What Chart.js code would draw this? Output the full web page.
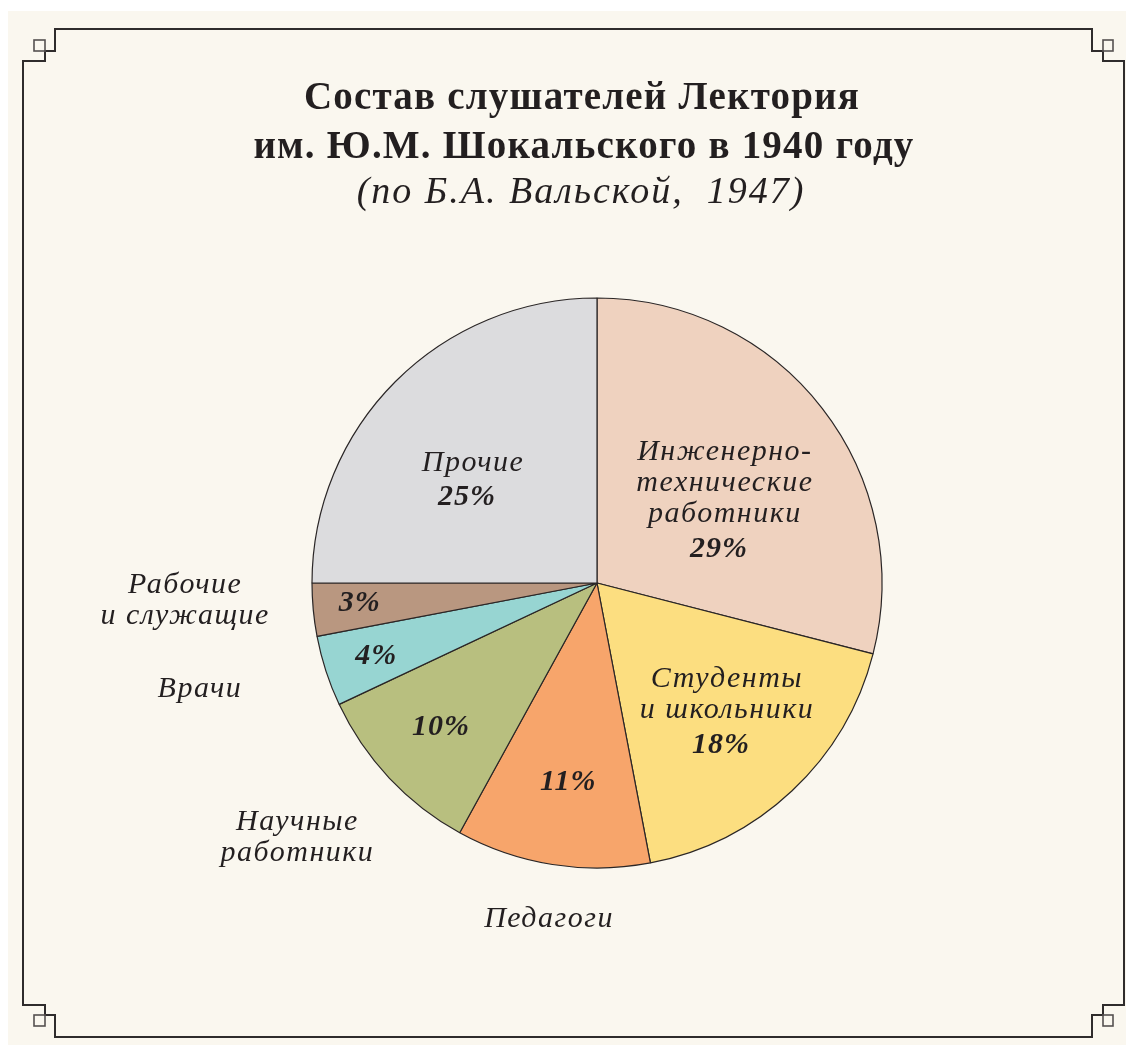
<!DOCTYPE html>
<html lang="ru">
<head>
<meta charset="utf-8">
<title>Состав слушателей Лектория</title>
<script src="https://cdn.jsdelivr.net/npm/chart.js@4.4.1/dist/chart.umd.min.js"></script>
<style>
    html, body { margin: 0; padding: 0; background: #ffffff; }
    #wrap { width: 1126px; height: 1045px; position: relative; }
</style>
</head>
<body>
<div id="wrap"><canvas id="lectureChart"></canvas></div>
<script>
// данные
const categories = [
    ['Инженерно-', 'технические', 'работники'],
    ['Студенты', 'и школьники'],
    ['Педагоги'],
    ['Научные', 'работники'],
    ['Врачи'],
    ['Рабочие', 'и служащие'],
    ['Прочие']
];
const shares = [29, 18, 11, 10, 4, 3, 25];
const sliceColors = ['#efd2bf', '#fcde80', '#f7a56b', '#b8bf7f', '#97d5d2', '#b99780', '#dcdcde'];

const titleLines = ['Состав слушателей Лектория', 'им. Ю.М. Шокальского в 1940 году'];
const subtitleLine = '(по Б.А. Вальской,  1947)';

// где ставить подписи: [доля радиуса, сдвиг угла в градусах], outside = имя снаружи
const labelPlace = [
    { r: 0.54, shift: 4, outside: null },
    { r: 0.635, shift: -2.7, outside: null },
    { r: 0.70, shift: -0.7, outside: { r: 1.18, shift: -0.8 } },
    { r: 0.74, shift: 0.9, outside: { r: 1.372, shift: 3.2 } },
    { r: 0.814, shift: 0, outside: { r: 1.439, shift: 3.5 } },
    { r: 0.835, shift: 1.1, outside: { r: 1.446, shift: 3.3 } },
    { r: 0.572, shift: -4.5, outside: null }
];

const ink = '#231f20';
const nameFont = 'italic 30px "Liberation Serif", serif';
const pctFont = 'italic bold 30px "Liberation Serif", serif';

const framePlugin = {
    id: 'frame',
    beforeDraw(chart) {
        const ctx = chart.ctx;
        ctx.save();
        ctx.fillStyle = '#ffffff';
        ctx.fillRect(0, 0, chart.width, chart.height);
        ctx.fillStyle = '#faf7ef';
        ctx.fillRect(8, 11, chart.width - 8, chart.height - 11);

        ctx.strokeStyle = '#2f2c2c';
        ctx.lineWidth = 2;
        const pts = [[55, 29], [1092, 29], [1092, 51], [1103, 51], [1103, 61], [1124, 61],
            [1124, 1005], [1103, 1005], [1103, 1015], [1092, 1015], [1092, 1037], [55, 1037],
            [55, 1015], [45, 1015], [45, 1005], [23, 1005], [23, 61], [45, 61], [45, 51], [55, 51]];
        ctx.beginPath();
        pts.forEach((p, i) => i ? ctx.lineTo(p[0], p[1]) : ctx.moveTo(p[0], p[1]));
        ctx.closePath();
        ctx.stroke();
        ctx.lineWidth = 1.6;
        ctx.strokeStyle = '#555050';
        ctx.strokeRect(34, 40, 11, 11);
        ctx.strokeRect(1103, 40, 10, 11);
        ctx.strokeRect(34, 1015, 11, 11);
        ctx.strokeRect(1103, 1015, 10, 11);

        // заголовок
        ctx.fillStyle = ink;
        ctx.textAlign = 'center';
        ctx.textBaseline = 'alphabetic';
        ctx.font = 'bold 39px "Liberation Serif", serif';
        ctx.letterSpacing = '1.2px';
        ctx.fillText(titleLines[0], 582, 109);
        ctx.fillText(titleLines[1], 584, 158);
        ctx.font = 'italic 38px "Liberation Serif", serif';
        ctx.letterSpacing = '2px';
        ctx.fillText(subtitleLine, 581, 203);
        ctx.restore();
    }
};

const labelPlugin = {
    id: 'sliceLabels',
    afterDatasetsDraw(chart) {
        const ctx = chart.ctx;
        const meta = chart.getDatasetMeta(0);
        ctx.save();
        ctx.fillStyle = ink;
        ctx.textAlign = 'center';
        ctx.textBaseline = 'middle';
        meta.data.forEach((arc, i) => {
            const p = arc.getProps(['x', 'y', 'startAngle', 'endAngle', 'outerRadius'], true);
            const place = labelPlace[i];
            const mid = (p.startAngle + p.endAngle) / 2;
            const at = (r, shift) => {
                const a = mid + shift * Math.PI / 180;
                return [p.x + Math.cos(a) * r * p.outerRadius, p.y + Math.sin(a) * r * p.outerRadius];
            };
            const pct = shares[i] + '%';
            const lineH = 31;
            if (place.outside) {
                const [ix, iy] = at(place.r, place.shift);
                ctx.font = pctFont;
                ctx.letterSpacing = '1px';
                ctx.fillText(pct, ix, iy + 2);
                const [ox, oy] = at(place.outside.r, place.outside.shift);
                ctx.font = nameFont;
                ctx.letterSpacing = '1.5px';
                const lines = categories[i];
                lines.forEach((t, k) => {
                    ctx.fillText(t, ox, oy + 3 + (k - (lines.length - 1) / 2) * lineH);
                });
            } else {
                const [cx, cy] = at(place.r, place.shift);
                const lines = categories[i];
                const total = (lines.length + 1) * lineH + 4;
                let y = cy - total / 2 + lineH / 2 + 3;
                ctx.font = nameFont;
                ctx.letterSpacing = '1.5px';
                lines.forEach(t => {
                    ctx.fillText(t, cx, y);
                    y += lineH;
                });
                ctx.font = pctFont;
                ctx.letterSpacing = '1px';
                ctx.fillText(pct, cx - 6, y + 4);
            }
        });
        ctx.restore();
    }
};

new Chart(document.getElementById('lectureChart'), {
    type: 'pie',
    data: {
        labels: categories.map(c => c.join(' ')),
        datasets: [{
            data: shares,
            backgroundColor: sliceColors,
            borderColor: '#2a2626',
            borderWidth: 1.2
        }]
    },
    options: {
        responsive: true,
        maintainAspectRatio: false,
        animation: false,
        radius: 285,
        layout: {
            padding: { left: 312, right: 244, top: 298, bottom: 177 }
        },
        plugins: {
            legend: { display: false },
            title: { display: false },
            tooltip: { enabled: false }
        }
    },
    plugins: [framePlugin, labelPlugin]
});
</script>
</body>
</html>
